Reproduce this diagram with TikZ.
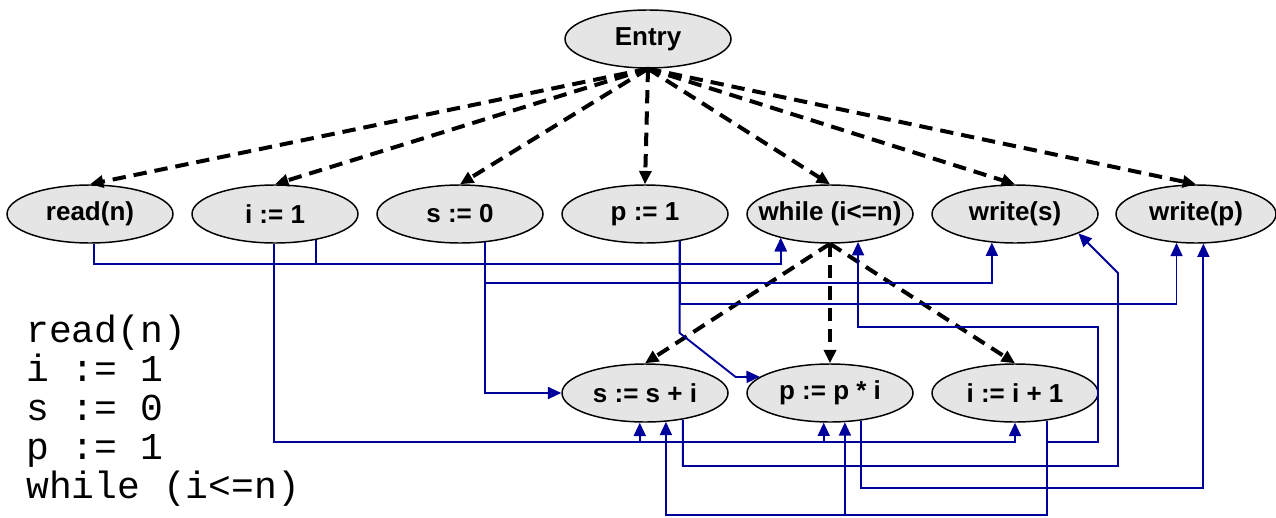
\documentclass[tikz,border=0pt]{standalone}
\usepackage{fontspec}
\setmainfont{Liberation Sans}
\newfontfamily\codefont{Liberation Mono}
\usetikzlibrary{shapes.geometric,arrows.meta}
\definecolor{depblue}{RGB}{0,0,155}
\tikzset{
  stmt/.style={ellipse, draw, line width=1.1pt, fill=black!10, minimum width=124.5pt, minimum height=43.5pt,
    inner xsep=-15pt, inner ysep=0pt, font=\fontsize{19.5}{20}\selectfont\bfseries},
  ctrl/.style={line width=3pt, dash pattern=on 10pt off 6pt, -{Triangle[length=10pt,width=9pt]}},
  data/.style={depblue, line width=1.4pt, -{Triangle[length=10pt,width=9pt]}},
  code/.style={anchor=base west, inner sep=0pt, font=\codefont\fontsize{28.5}{29.4}\selectfont},
}
\begin{document}
\begin{tikzpicture}[x=0.75pt, y=-0.75pt]
\useasboundingbox (0,0) rectangle (1276,517);
% statements
\node[stmt] (entry) at (648,39) {Entry};
\node[stmt] (readn) at (90,214) {read(n)};
\node[stmt] (ione) at (275,214) {i := 1};
\node[stmt] (szero) at (460,214) {s := 0};
\node[stmt] (pone) at (645,214) {p := 1};
\node[stmt] (cond) at (830,214) {while (i<=n)};
\node[stmt] (writes) at (1015,214) {write(s)};
\node[stmt, minimum width=120pt] (writep) at (1196,214) {write(p)};
\node[stmt] (sum) at (645,393) {s := s + i};
\node[stmt] (prod) at (830,393) {p := p * i};
\node[stmt] (inc) at (1015,393) {i := i + 1};
% program text
\foreach \line [count=\k] in {read(n), i := 1, s := 0, p := 1, while (i<=n)}
  \node[code] (code\k) at (26,{302.8+39.2*\k}) {\line};
% control dependences
\foreach \n in {readn, ione, szero, pone, cond, writes, writep}
  \draw[ctrl] (entry.south) -- (\n.north);
\foreach \n in {sum, prod, inc}
  \draw[ctrl] (cond.south) -- (\n.north);
% data dependences
\coordinate (lvRead) at (0,264);
\coordinate (lvZero) at (0,283);
\coordinate (lvOne) at (0,304);
\coordinate (lvKink) at (0,333);
\coordinate (lvUse) at (0,442);
\coordinate (lvSum) at (0,466);
\coordinate (lvProd) at (0,488);
\coordinate (lvInc) at (0,515);
\draw[data] (readn.-82) -- (readn.-82 |- lvRead) -| (cond.-154);
\draw[data] (ione.-32) -- (ione.-32 |- lvRead) -| (cond.-154);
\draw[data] (ione.-92) -- (ione.-92 |- lvUse) -| (sum.-100);
\draw[data] (ione.-92) -- (ione.-92 |- lvUse) -| (prod.-102);
\draw[data] (ione.-92) -- (ione.-92 |- lvUse) -| (inc.south);
\draw[data] (szero.-49) -- (szero.-49 |- lvZero) -| (writes.-129.5);
\draw[data] (szero.-49) |- (sum.west);
\draw[data] (pone.-38) -- (pone.-38 |- lvOne) -| (writep.-124);
\draw[data] (pone.-38) -- (pone.-38 |- lvKink) -- ++(56,44) -- (prod.167);
\draw[data] (inc.-41) -- (inc.-41 |- lvUse) -| (1098,327) -| (cond.-45.4);
\draw[data] (inc.-41) -- (inc.-41 |- lvInc) -| (sum.-54.6);
\draw[data] (inc.-41) -- (inc.-41 |- lvInc) -| (prod.-63.9);
\draw[data] (sum.-35) -- (sum.-35 |- lvSum) -| (1118,273) -- (writes.-17.3);
\draw[data] (prod.-42) -- (prod.-42 |- lvProd) -| (writep.-76.4);
\end{tikzpicture}
\end{document}
